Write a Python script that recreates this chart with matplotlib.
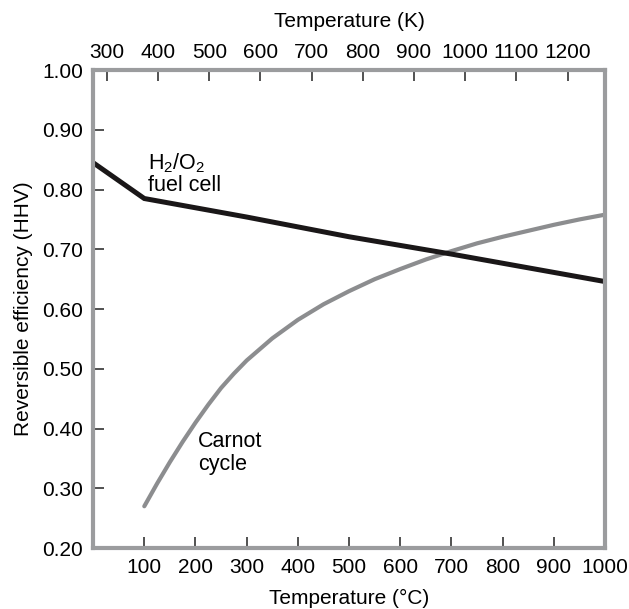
import numpy as np
import matplotlib
matplotlib.use("Agg")
from matplotlib import pyplot as plt

plt.rcParams['font.family'] = ['Liberation Sans', 'DejaVu Sans']
plt.rcParams['mathtext.default'] = 'regular'

# values
fuel_t = [0, 100, 300, 500, 700, 1000]
fuel_eff = [0.845, 0.785, 0.754, 0.721, 0.692, 0.646]

carnot_t = [100, 125, 150, 175, 200, 225, 250, 275, 300, 350, 400, 450, 500,
            550, 600, 650, 700, 750, 800, 850, 900, 950, 1000]
carnot_eff = [0.270, 0.308, 0.344, 0.378, 0.410, 0.440, 0.468, 0.492, 0.514,
              0.551, 0.582, 0.608, 0.630, 0.650, 0.667, 0.683, 0.697, 0.710,
              0.721, 0.731, 0.741, 0.750, 0.758]

c_ticks = [100, 200, 300, 400, 500, 600, 700, 800, 900, 1000]
k_ticks = [300, 400, 500, 600, 700, 800, 900, 1000, 1100, 1200]
y_ticks = [0.20, 0.30, 0.40, 0.50, 0.60, 0.70, 0.80, 0.90, 1.00]

spine_col = '#9b9c9e'
fs = 15

fig = plt.figure(figsize=(6.29, 6.09), dpi=100)
ax = fig.add_axes([0.148, 0.100, 0.814, 0.785])

ax.plot(carnot_t, carnot_eff, color='#8c8d8f', lw=3.0, solid_capstyle='round',
        solid_joinstyle='round')
ax.plot(fuel_t, fuel_eff, color='#1a1718', lw=3.6, solid_joinstyle='miter')

ax.set_xlim(0, 1000)
ax.set_ylim(0.20, 1.00)
ax.set_xticks(c_ticks)
ax.set_yticks(y_ticks)
ax.set_yticklabels(['%.2f' % v for v in y_ticks])
ax.tick_params(direction='in', length=8, width=1.1, color='#222222',
               labelsize=fs, pad=7)
ax.tick_params(axis='y', pad=7)
ax.xaxis.get_major_ticks()[-1].tick1line.set_visible(False)
ax.yaxis.get_major_ticks()[0].tick1line.set_visible(False)
ax.yaxis.get_major_ticks()[-1].tick1line.set_visible(False)

for s in ax.spines.values():
    s.set_color(spine_col)
    s.set_linewidth(3.0)

top = ax.secondary_xaxis('top', functions=(lambda c: c + 273.15, lambda k: k - 273.15))
top.set_xticks(k_ticks)
top.tick_params(direction='in', length=8, width=1.1, color='#222222',
                labelsize=fs, pad=6)
top.spines['top'].set_visible(False)
top.set_xlabel('Temperature (K)', fontsize=fs, labelpad=11)

ax.set_xlabel('Temperature (\u00b0C)', fontsize=fs, labelpad=9)
ax.set_ylabel('Reversible efficiency (HHV)', fontsize=fs, labelpad=7)

ax.text(108, 0.79, '$H_2/O_2$\nfuel cell', fontsize=15.5, va='bottom', ha='left',
        linespacing=1.0)
ax.text(205, 0.322, 'Carnot\ncycle', fontsize=15.5, va='bottom', ha='left',
        linespacing=1.15)

fig.savefig('out.png', dpi=100)
